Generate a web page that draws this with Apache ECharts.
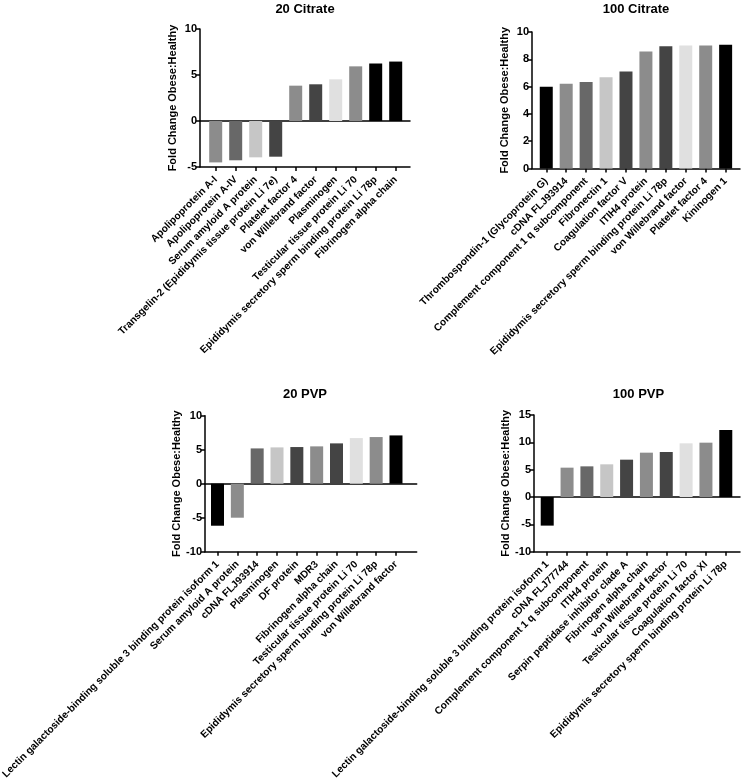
<!DOCTYPE html>
<html>
<head>
<meta charset="utf-8">
<script src="https://cdn.jsdelivr.net/npm/echarts@6/dist/echarts.min.js"></script>
<style>
html,body{margin:0;padding:0;background:#fff;}
#chart{width:741px;height:781px;}
</style>
</head>
<body>
<div id="chart"></div>
<script>
// ---------- data ----------
var titles = ['20 Citrate', '100 Citrate', '20 PVP', '100 PVP'];
var yAxisName = 'Fold Change Obese:Healthy';

var cats20Citrate = ['Apolipoprotein A-I', 'Apolipoprotein A-IV', 'Serum amyloid A protein',
  'Transgelin-2 (Epididymis tissue protein Li 7e)', 'Platelet factor 4', 'von Willebrand factor',
  'Plasminogen', 'Testicular tissue protein Li 70', 'Epididymis secretory sperm binding protein Li 78p',
  'Fibrinogen alpha chain'];
var vals20Citrate = [-4.5, -4.27, -3.95, -3.88, 3.84, 3.99, 4.53, 5.94, 6.25, 6.46];

var cats100Citrate = ['Thrombospondin-1 (Glycoprotein G)', 'cDNA FLJ93914', 'Complement component 1 q subcomponent',
  'Fibronectin 1', 'Coagulation factor V', 'ITIH4 protein', 'Epididymis secretory sperm binding protein Li 78p',
  'von Willebrand factor', 'Platelet factor 4', 'Kininogen 1'];
var vals100Citrate = [5.98, 6.2, 6.33, 6.69, 7.11, 8.57, 8.96, 9.01, 9.01, 9.06];

var cats20PVP = ['Lectin galactoside-binding soluble 3 binding protein isoform 1', 'Serum amyloid A protein',
  'cDNA FLJ93914', 'Plasminogen', 'DF protein', 'MDR3', 'Fibrinogen alpha chain',
  'Testicular tissue protein Li 70', 'Epididymis secretory sperm binding protein Li 78p', 'von Willebrand factor'];
var vals20PVP = [-6.18, -5.0, 5.19, 5.34, 5.39, 5.49, 5.93, 6.71, 6.86, 7.1];

var cats100PVP = ['Lectin galactoside-binding soluble 3 binding protein isoform 1', 'cDNA FLJ77744',
  'Complement component 1 q subcomponent', 'ITIH4 protein', 'Serpin peptidase inhibitor clade A',
  'Fibrinogen alpha chain', 'von Willebrand factor', 'Testicular tissue protein Li 70',
  'Coagulation factor XI', 'Epididymis secretory sperm binding protein Li 78p'];
var vals100PVP = [-5.23, 5.37, 5.61, 5.98, 6.83, 8.11, 8.23, 9.82, 9.94, 12.25];

// y-axis ranges (tick labels)
var yMin = [-5, 0, -10, -10];
var yMax = [10, 10, 10, 15];
var yStep = [5, 2, 5, 5];

// ---------- styles ----------
var colors20Citrate = ['#8c8c8c', '#686868', '#c6c6c6', '#444444', '#8c8c8c', '#444444', '#e0e0e0', '#8c8c8c', '#000000', '#000000'];
var colorsOther = ['#000000', '#8c8c8c', '#686868', '#c6c6c6', '#444444', '#8c8c8c', '#444444', '#e0e0e0', '#8c8c8c', '#000000'];

var FONT = '"Liberation Sans", Arial, Helvetica, sans-serif';

// layout: frame (axis box) and bar band area
var layout = [
  {fx: 200, fw: 210, top: 29, h: 138, bx: 205.7, bw: 200, tx: 305, ty: 2.5},
  {fx: 532, fw: 208, top: 32, h: 136.5, bx: 536.3, bw: 199.3, tx: 636, ty: 2.5},
  {fx: 205, fw: 211.7, top: 415.7, h: 136, bx: 207.6, bw: 198.3, tx: 305, ty: 387.5},
  {fx: 534, fw: 206, top: 415, h: 136.7, bx: 537.3, bw: 198.4, tx: 638.5, ty: 387.5}
];

var allCats = [cats20Citrate, cats100Citrate, cats20PVP, cats100PVP];
var allVals = [vals20Citrate, vals100Citrate, vals20PVP, vals100PVP];
var allColors = [colors20Citrate, colorsOther, colorsOther, colorsOther];

var option = {
  animation: false,
  backgroundColor: '#ffffff',
  title: [], grid: [], xAxis: [], yAxis: [], series: []
};

var lineStyle = {color: '#000', width: 1.5};

for (var i = 0; i < 4; i++) {
  var L = layout[i];
  option.title.push({
    text: titles[i], left: L.tx, top: L.ty, textAlign: 'center', padding: 0,
    textStyle: {fontFamily: FONT, fontSize: 13, fontWeight: 'bold', color: '#000'}
  });
  // frame grid (index 2i), bar grid (2i+1)
  option.grid.push({left: L.fx, top: L.top, width: L.fw, height: L.h, outerBoundsMode: 'none', containLabel: false});
  option.grid.push({left: L.bx, top: L.top, width: L.bw, height: L.h, outerBoundsMode: 'none', containLabel: false});

  var fg = 2 * i, bg = 2 * i + 1;
  // frame y axis (visible)
  option.yAxis.push({
    type: 'value', gridIndex: fg, min: yMin[i], max: yMax[i], interval: yStep[i],
    name: yAxisName, nameLocation: 'middle', nameGap: 22, nameRotate: 90,
    nameTextStyle: {fontFamily: FONT, fontSize: 11, fontWeight: 'bold', color: '#000'},
    axisLine: {show: true, lineStyle: lineStyle},
    axisTick: {show: true, length: 4, lineStyle: lineStyle},
    axisLabel: {fontFamily: FONT, fontSize: 11, fontWeight: 'bold', color: '#000', margin: 3},
    splitLine: {show: false}
  });
  // bar y axis (hidden)
  option.yAxis.push({
    type: 'value', gridIndex: bg, min: yMin[i], max: yMax[i], interval: yStep[i], show: false,
    splitLine: {show: false}
  });
  var byIndex = option.yAxis.length - 1;

  // frame bottom line
  option.xAxis.push({
    type: 'value', gridIndex: fg, min: 0, max: 1, position: 'bottom',
    axisLine: {show: true, onZero: false, lineStyle: lineStyle},
    axisTick: {show: false}, axisLabel: {show: false}, splitLine: {show: false}
  });
  // zero line
  if (yMin[i] < 0) {
    option.xAxis.push({
      type: 'value', gridIndex: fg, min: 0, max: 1, position: 'top',
      axisLine: {show: true, onZero: true, lineStyle: lineStyle},
      axisTick: {show: false}, axisLabel: {show: false}, splitLine: {show: false}
    });
  }
  // bar category axis
  option.xAxis.push({
    type: 'category', gridIndex: bg, data: allCats[i], position: 'bottom',
    axisLine: {show: false, onZero: false},
    axisTick: {show: true, alignWithLabel: true, length: 4, lineStyle: lineStyle},
    axisLabel: {interval: 0, rotate: 45, margin: 11, fontFamily: FONT, fontSize: 10.2, fontWeight: 'bold', color: '#000'},
    splitLine: {show: false}
  });
  var bxIndex = option.xAxis.length - 1;

  (function (cols) {
    option.series.push({
      type: 'bar', xAxisIndex: bxIndex, yAxisIndex: byIndex,
      data: allVals[i], barWidth: 13,
      itemStyle: {color: function (p) { return cols[p.dataIndex]; }},
      silent: true
    });
  })(allColors[i]);
}

var chart = echarts.init(document.getElementById('chart'), null, {renderer: 'canvas'});
chart.setOption(option);
</script>
</body>
</html>
